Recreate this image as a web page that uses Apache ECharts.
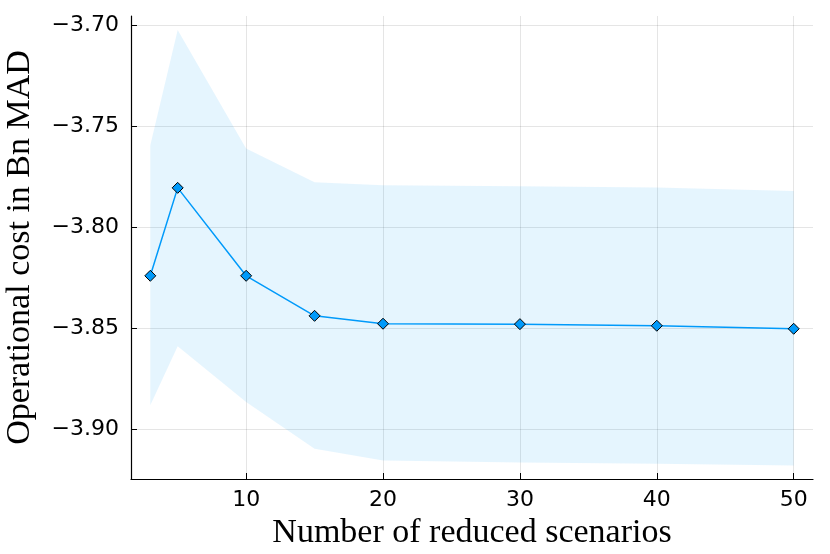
<!DOCTYPE html>
<html>
<head>
<meta charset="utf-8">
<script src="https://cdn.jsdelivr.net/npm/echarts@6.0.0/dist/echarts.min.js"></script>
<style>
  html, body { margin: 0; padding: 0; background: #fff; }
  #main { width: 830px; height: 554px; }
</style>
</head>
<body>
<div id="main"></div>
<script>
// number of reduced scenarios
const scenarios = [3, 5, 10, 15, 20, 30, 40, 50];
// mean operational cost (Bn MAD)
const meanCost = [-3.824, -3.7805, -3.824, -3.8438, -3.8477, -3.8479, -3.8487, -3.8502];
// band edges
const upperCost = [-3.7594, -3.7024, -3.761, -3.7777, -3.7792, -3.7797, -3.7803, -3.7821];
const lowerCost = [-3.888, -3.8589, -3.8864, -3.9095, -3.9154, -3.9164, -3.9169, -3.9178];
// tick labels
const xTicks = [10, 20, 30, 40, 50];
const yTicks = [-3.90, -3.85, -3.80, -3.75, -3.70];

const blue = '#009AFA';
const tickFont = { fontFamily: 'DejaVu Sans', fontSize: 22, color: '#000' };
const titleFont = { fontFamily: 'Liberation Serif', fontSize: 34, color: '#000' };

let chart = echarts.init(document.getElementById('main'), null, { renderer: 'canvas' });

// band drawn as one polygon: upper edge left to right, then lower edge back
function renderBand(params, api) {
  if (params.dataIndex !== 0) return;
  let pts = [];
  for (let i = 0; i < scenarios.length; i++) {
    pts.push(api.coord([scenarios[i], upperCost[i]]));
  }
  for (let i = scenarios.length - 1; i >= 0; i--) {
    pts.push(api.coord([scenarios[i], lowerCost[i]]));
  }
  return {
    type: 'polygon',
    shape: { points: pts },
    style: { fill: 'rgba(0,154,250,0.1)' },
    silent: true
  };
}

let option = {
  animation: false,
  backgroundColor: '#fff',
  grid: { left: 131, right: 17, top: 16, bottom: 75, outerBoundsMode: 'none' },
  xAxis: {
    type: 'value',
    min: 1.59,
    max: 51.41,
    name: 'Number of reduced scenarios',
    nameLocation: 'middle',
    nameGap: 30,
    nameTextStyle: titleFont,
    axisLine: { onZero: false, lineStyle: { color: '#000', width: 1.2 } },
    axisTick: { inside: true, length: 6, customValues: xTicks, lineStyle: { color: '#000' } },
    axisLabel: Object.assign({ customValues: xTicks, margin: 10 }, tickFont),
    splitLine: { show: true, lineStyle: { color: 'rgba(0,0,0,0.1)', width: 1 } }
  },
  yAxis: {
    type: 'value',
    min: -3.9245,
    max: -3.6955,
    name: 'Operational cost in Bn MAD',
    nameLocation: 'middle',
    nameGap: 94,
    nameTextStyle: titleFont,
    axisLine: { show: true, onZero: false, lineStyle: { color: '#000', width: 1.2 } },
    axisTick: { show: true, inside: true, length: 6, customValues: yTicks, lineStyle: { color: '#000' } },
    axisLabel: Object.assign({
      customValues: yTicks,
      margin: 12,
      formatter: v => (v < 0 ? '\u2212' : '') + Math.abs(v).toFixed(2)
    }, tickFont),
    splitLine: { show: true, lineStyle: { color: 'rgba(0,0,0,0.1)', width: 1 } }
  },
  series: [
    {
      type: 'custom',
      renderItem: renderBand,
      data: scenarios.map((x, i) => [x, lowerCost[i], upperCost[i]]),
      encode: { x: 0, y: [1, 2] },
      silent: true,
      z: 1
    },
    {
      type: 'line',
      data: scenarios.map((x, i) => [x, meanCost[i]]),
      symbol: 'diamond',
      symbolSize: 11,
      lineStyle: { color: blue, width: 1.5 },
      itemStyle: { color: blue, borderColor: '#000', borderWidth: 1 },
      z: 5
    }
  ]
};

chart.setOption(option);
</script>
</body>
</html>
